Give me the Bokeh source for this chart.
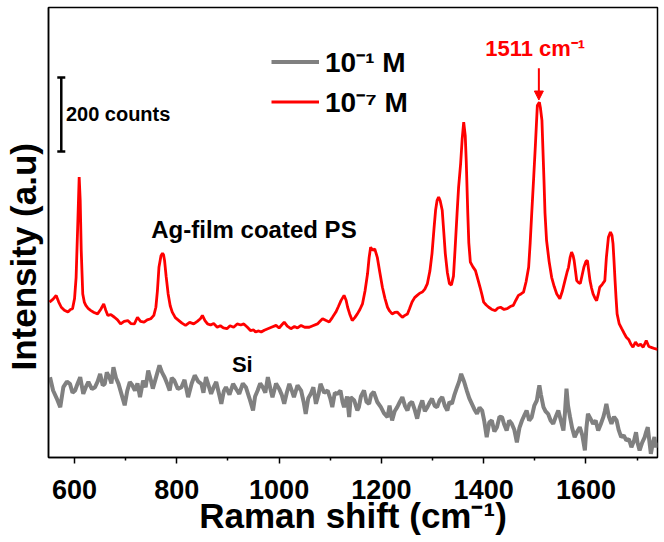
from bokeh.plotting import figure
from bokeh.models import FixedTicker, Label, Arrow, NormalHead, Legend, LegendItem
from bokeh.embed import file_html
from bokeh.resources import INLINE

# ---------------- data (Raman shift in cm^-1, intensity in counts, offset) ----------------
red_x = [551, 558, 564, 569, 574, 580, 587, 592, 596, 600, 603, 606, 609, 611, 613, 616, 619, 622,
         627, 632, 638, 645, 651, 657, 661, 665, 671, 678, 684, 690, 697, 704, 710, 717, 723, 729,
         736, 742, 749, 755, 759, 762, 765, 769, 772, 774, 776, 779, 783, 787, 791, 797, 804, 810,
         817, 825, 833, 840, 846, 850, 855, 860, 866, 872, 879, 885, 891, 898, 904, 911, 918, 925,
         931, 938, 944, 950, 954, 960, 965, 971, 978, 985, 994, 1000, 1005, 1010, 1016, 1023, 1030,
         1036, 1043, 1050, 1059, 1066, 1075, 1080, 1085, 1092, 1098, 1104, 1111, 1116, 1121, 1127,
         1131, 1134, 1138, 1143, 1148, 1153, 1158, 1163, 1168, 1173, 1176, 1179, 1183, 1187, 1192,
         1197, 1202, 1207, 1212, 1216, 1221, 1226, 1231, 1236, 1241, 1246, 1251, 1255, 1260, 1265,
         1270, 1275, 1280, 1285, 1290, 1295, 1299, 1303, 1306, 1309, 1312, 1315, 1319, 1322, 1325,
         1329, 1333, 1337, 1341, 1344, 1348, 1351, 1355, 1358, 1361, 1364, 1366, 1369, 1371, 1374,
         1379, 1384, 1389, 1393, 1397, 1400, 1405, 1410, 1416, 1423, 1428, 1433, 1440, 1446, 1452,
         1458, 1463, 1468, 1473, 1478, 1483, 1488, 1491, 1494, 1498, 1501, 1505, 1509, 1511, 1514,
         1516, 1518, 1520, 1523, 1528, 1533, 1538, 1543, 1549, 1554, 1559, 1563, 1566, 1569, 1572,
         1575, 1577, 1580, 1582, 1586, 1589, 1593, 1596, 1600, 1603, 1605, 1608, 1611, 1614, 1618,
         1621, 1624, 1627, 1632, 1637, 1640, 1644, 1648, 1651, 1653, 1655, 1657, 1659, 1661, 1665,
         1670, 1675, 1679, 1684, 1688, 1692, 1697, 1702, 1707, 1712, 1718, 1723, 1729, 1735, 1740]
red_y = [420, 428, 438, 420, 406, 398, 393, 400, 402, 430, 487, 620, 758, 695, 560, 442, 420, 411,
         402, 397, 392, 388, 400, 415, 398, 384, 386, 379, 372, 361, 368, 370, 362, 361, 379, 368,
         366, 372, 375, 384, 406, 450, 514, 545, 552, 548, 532, 490, 442, 410, 393, 378, 370, 363,
         357, 365, 361, 368, 375, 384, 370, 361, 358, 362, 352, 356, 350, 348, 356, 352, 361, 358,
         361, 352, 343, 345, 339, 342, 339, 344, 348, 352, 357, 350, 358, 366, 355, 348, 354,
         350, 357, 352, 352, 356, 361, 368, 375, 370, 366, 378, 393, 408, 424, 438,
         425, 406, 388, 370, 378, 388, 400, 415, 450, 497, 540, 568, 560, 564, 541,
         500, 460, 430, 406, 396, 388, 392, 393, 386, 379, 384, 388, 402, 420, 432,
         438, 444, 447, 455, 470, 505, 551, 620, 668, 695, 704, 694, 668, 610, 551,
         500, 470, 466, 490, 560, 659, 730, 794, 860, 906, 870, 800, 659, 580, 528,
         515, 505, 480, 460, 438, 420, 412, 406, 400, 397, 404, 406, 400, 402, 408,
         411, 425, 438, 442, 447, 475, 514, 580, 659, 760, 839, 951, 960, 945, 911,
         830, 749, 660, 587, 530, 487, 462, 442, 429, 450, 478, 500, 514, 540, 555,
         545, 532, 500, 478, 472, 470, 495, 514, 530, 532, 510, 478, 458, 442, 430,
         424, 440, 460, 468, 478, 540, 595, 609, 600, 578, 530, 478, 430, 388, 362,
         348, 335, 325, 318, 306, 298, 312, 302, 306, 298, 316, 300, 297, 294, 292]

gray_x = [552, 558, 565, 572, 578, 585, 591, 596, 601, 606, 611, 617, 622, 627, 634, 640, 645, 650,
          655, 659, 663, 668, 672, 676, 681, 686, 692, 698, 703, 708, 713, 718, 723, 728, 734, 739,
          744, 749, 753, 760, 766, 771, 776, 781, 786, 790, 795, 802, 809, 815, 822, 829, 835, 842,
          848, 852, 857, 862, 867, 872, 877, 882, 887, 892, 896, 903, 910, 916, 922, 929, 935, 942,
          949, 953, 958, 963, 968, 973, 978, 983, 987, 994, 1000, 1005, 1010, 1015, 1020, 1025,
          1029, 1036, 1043, 1048, 1052, 1057, 1062, 1067, 1072, 1077, 1081, 1088, 1095, 1100,
          1104, 1109, 1114, 1120, 1124, 1127, 1133, 1137, 1140, 1147, 1150, 1153, 1156, 1160,
          1166, 1171, 1176, 1180, 1185, 1192, 1199, 1205, 1212, 1216, 1221, 1226, 1231, 1236,
          1241, 1246, 1251, 1255, 1260, 1265, 1270, 1275, 1280, 1285, 1290, 1295, 1299, 1304,
          1309, 1314, 1319, 1324, 1329, 1333, 1338, 1343, 1348, 1352, 1356, 1359, 1362, 1365,
          1367, 1372, 1377, 1382, 1387, 1392, 1397, 1401, 1406, 1411, 1416, 1421, 1426, 1431,
          1436, 1440, 1445, 1450, 1455, 1460, 1465, 1470, 1475, 1480, 1484, 1489, 1494, 1499,
          1504, 1507, 1509, 1512, 1517, 1521, 1526, 1531, 1536, 1541, 1546, 1551, 1556, 1559,
          1562, 1565, 1569, 1573, 1578, 1583, 1588, 1593, 1598, 1601, 1604, 1609, 1614, 1619,
          1624, 1629, 1634, 1637, 1640, 1645, 1650, 1655, 1660, 1664, 1669, 1674, 1679, 1684,
          1689, 1694, 1698, 1701, 1705, 1710, 1715, 1718, 1721, 1724, 1727, 1731, 1734, 1737, 1740]
gray_y = [217, 181, 160, 136, 190, 205, 199, 175, 181, 200, 217, 172, 190, 204, 185, 190, 205, 226,
          195, 199, 230, 217, 200, 244, 215, 199, 170, 141, 180, 204, 195, 181, 200, 163, 208, 190,
          235, 210, 186, 220, 249, 230, 217, 200, 181, 215, 208, 185, 190, 210, 163, 200, 222, 205,
          199, 175, 217, 195, 172, 190, 204, 175, 145, 180, 190, 170, 199, 185, 172, 200, 190, 160,
          127, 165, 181, 200, 190, 175, 217, 185, 163, 200, 186, 170, 145, 175, 199, 180,
          163, 195, 181, 150, 118, 160, 172, 190, 145, 170, 199, 175, 181, 160,
          136, 175, 172, 181, 150, 136, 165, 109, 163, 154, 140, 127, 136, 165,
          181, 150, 145, 170, 177, 150, 136, 120, 109, 140, 100, 125, 136, 150,
          163, 140, 127, 145, 150, 130, 105, 135, 154, 125, 136, 150, 159, 140,
          136, 155, 163, 140, 127, 150, 145, 170, 190, 205, 226, 215, 204, 190,
          181, 160, 145, 130, 118, 135, 127, 100, 55, 95, 100, 70, 82, 110,
          109, 90, 73, 100, 91, 75, 41, 80, 100, 115, 127, 100, 109, 140,
          154, 180, 195, 170, 136, 125, 118, 100, 91, 110, 127, 100, 73, 120,
          186, 140, 109, 80, 55, 70, 82, 60, 19, 80, 118, 105, 91, 100,
          73, 90, 109, 125, 145, 110, 91, 110, 100, 75, 55, 60, 46, 50,
          28, 45, 68, 40, 19, 40, 55, 70, 82, 45, 10, 40, 55, 28, 40]

x_ticks = [600, 800, 1000, 1200, 1400, 1600]
x_minor_ticks = [700, 900, 1100, 1300, 1500, 1700]
x_limits = (549, 1740)
y_limits = (0, 1216)

x_title = "Raman shift (cm\u207b\u00b9)"
y_title = "Intensity (a.u)"
series_labels = ["10\u207b\u00b9 M", "10\u207b\u2077 M"]
peak_label = "1511 cm\u207b\u00b9"
peak_position = 1508
peak_arrow_y = (1052, 966)
peak_label_pos = (1403, 1105)
scalebar_x = 574
scalebar_y = [827, 1027]
scalebar_label = "200 counts"
sample_label = "Ag-film coated PS"
sample_label_pos = (750, 616)
si_label = "Si"
si_label_pos = (928, 252)

FONT = "Liberation Sans"

p = figure(width=664, height=542, x_range=x_limits, y_range=y_limits,
           output_backend="svg", toolbar_location=None,
           min_border_left=47, min_border_right=7, min_border_top=7, min_border_bottom=85)
p.background_fill_color = "white"
p.border_fill_color = "white"
p.outline_line_color = "black"
p.outline_line_width = 1.5
p.xgrid.visible = False
p.ygrid.visible = False

r_gray = p.line(gray_x, gray_y, line_color="#808080", line_width=4)
r_red = p.line(red_x, red_y, line_color="#ff0000", line_width=2.8)

# x axis
p.xaxis.ticker = FixedTicker(ticks=x_ticks, minor_ticks=x_minor_ticks)
p.xaxis.axis_line_color = "black"
p.xaxis.axis_line_width = 1.5
p.xaxis.major_tick_out = 6
p.xaxis.major_tick_in = 0
p.xaxis.minor_tick_out = 3
p.xaxis.minor_tick_in = 0
p.xaxis.major_tick_line_width = 1.5
p.xaxis.minor_tick_line_width = 1.5
p.xaxis.major_label_text_font = FONT
p.xaxis.major_label_text_font_style = "bold"
p.xaxis.major_label_text_font_size = "27px"
p.xaxis.major_label_text_color = "black"
p.xaxis.major_label_standoff = 16
p.xaxis.axis_label = x_title
p.xaxis.axis_label_text_font = FONT
p.xaxis.axis_label_text_font_style = "bold"
p.xaxis.axis_label_text_font_size = "35px"
p.xaxis.axis_label_text_color = "black"
p.xaxis.axis_label_standoff = -6

# y axis: no ticks, only the title (non-breaking spaces shift it down like the original)
p.yaxis.ticker = FixedTicker(ticks=[])
p.yaxis.major_tick_out = 0
p.yaxis.major_tick_in = 0
p.yaxis.minor_tick_out = 0
p.yaxis.minor_tick_in = 0
p.yaxis.major_label_text_font_size = "0px"
p.yaxis.axis_line_color = "black"
p.yaxis.axis_line_width = 1.5
p.yaxis.axis_label = y_title + "\u00a0" * 5
p.yaxis.axis_label_text_font = FONT
p.yaxis.axis_label_text_font_style = "bold"
p.yaxis.axis_label_text_font_size = "35px"
p.yaxis.axis_label_text_color = "black"
p.yaxis.axis_label_standoff = 6

# scale bar
p.segment(x0=[scalebar_x], y0=[scalebar_y[0]], x1=[scalebar_x], y1=[scalebar_y[1]],
          line_color="black", line_width=2.5)
p.scatter(x=[scalebar_x, scalebar_x], y=scalebar_y, marker="dash", size=8,
          line_color="black", line_width=2.5)
p.add_layout(Label(x=scalebar_x + 9, y=(scalebar_y[0] + scalebar_y[1]) / 2, text=scalebar_label,
                   text_font=FONT, text_font_style="bold", text_font_size="20px",
                   text_color="black", text_baseline="middle", text_align="left"))

# annotations
p.add_layout(Label(x=sample_label_pos[0], y=sample_label_pos[1], text=sample_label,
                   text_font=FONT, text_font_style="bold", text_font_size="24px",
                   text_color="black", text_baseline="middle", text_align="left"))
p.add_layout(Label(x=si_label_pos[0], y=si_label_pos[1], text=si_label,
                   text_font=FONT, text_font_style="bold", text_font_size="22px",
                   text_color="black", text_baseline="middle", text_align="center"))
p.add_layout(Label(x=peak_label_pos[0], y=peak_label_pos[1], text=peak_label,
                   text_font=FONT, text_font_style="bold", text_font_size="22px",
                   text_color="#ff0000", text_baseline="middle", text_align="left"))
p.add_layout(Arrow(end=NormalHead(size=9, fill_color="#ff0000", line_color="#ff0000"),
                   x_start=peak_position, y_start=peak_arrow_y[0],
                   x_end=peak_position, y_end=peak_arrow_y[1],
                   line_color="#ff0000", line_width=2))

legend = Legend(items=[LegendItem(label=series_labels[0], renderers=[r_gray]),
                       LegendItem(label=series_labels[1], renderers=[r_red])],
                location=(223, 337), border_line_color=None, background_fill_alpha=0,
                glyph_width=48, glyph_height=33, label_height=33, spacing=2, padding=0,
                margin=0, label_standoff=6, label_text_font=FONT,
                label_text_font_size="28px", label_text_font_style="bold",
                label_text_color="black")
p.add_layout(legend)

open("out.html", "w").write(file_html(p, INLINE))
